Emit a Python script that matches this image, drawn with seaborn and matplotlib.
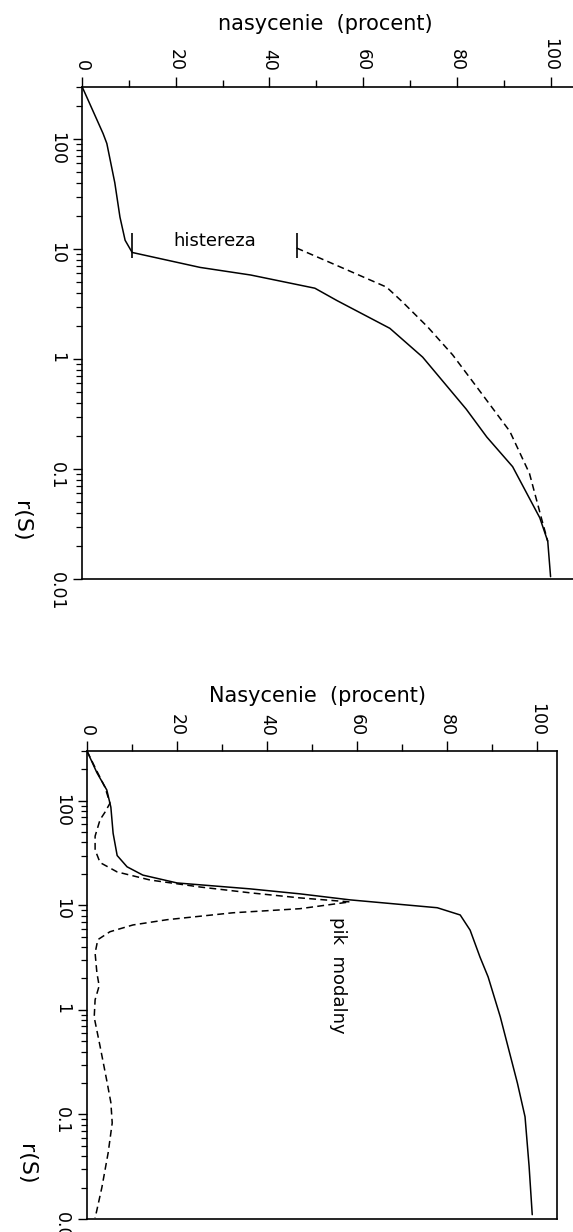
import matplotlib
matplotlib.use('Agg')
import matplotlib.pyplot as plt
import seaborn as sns
import pandas as pd
from matplotlib.ticker import FixedLocator, LogLocator, NullFormatter

# ---------------- data ----------------
# top panel (drainage / imbibition with hysteresis)
top_solid_sat = [0, 1.3, 4.5, 5.3, 7.0, 8.1, 9.2, 10.7, 25.2, 36.0, 49.7, 54.4,
                 65.7, 72.7, 82.0, 86.4, 91.9, 97.7, 99.4, 100.0]
top_solid_r = [300, 226, 112, 91, 40, 19.5, 12, 9.3, 6.8, 5.8, 4.4, 3.4,
               1.9, 1.04, 0.35, 0.195, 0.105, 0.036, 0.022, 0.0105]
top_dash_sat = [45.8, 55.0, 65.0, 68.4, 73.8, 79.1, 84.2, 91.3, 95.5, 98.1, 99.4]
top_dash_r = [10.2, 6.9, 4.5, 3.3, 1.95, 1.09, 0.56, 0.22, 0.091, 0.035, 0.022]
hyst_sat = [10.7, 45.8]
hyst_r_low = 8.3
hyst_r_high = 14.0

# bottom panel (cumulative curve and pore-size distribution)
bot_solid_sat = [0, 2.2, 4.4, 5.3, 5.8, 6.7, 8.9, 12.4, 20.0, 36.2, 47.3, 58.4,
                 77.8, 82.9, 85.1, 87.3, 89.1, 91.8, 95.6, 97.3, 98.2, 98.9]
bot_solid_r = [300, 186, 127, 87, 49, 30, 23.4, 19.5, 16.4, 14.4, 12.9, 11.3,
               9.5, 8.1, 5.8, 3.2, 2.07, 0.86, 0.2, 0.095, 0.032, 0.011]
bot_dash_sat = [0, 2.0, 4.0, 5.1, 4.0, 2.9, 1.8, 1.8, 2.9, 6.7, 14.0, 25.1, 36.2,
                47.3, 58.4, 47.3, 32.4, 17.8, 10.2, 5.1, 2.4, 1.8, 2.2, 2.7, 1.8,
                1.6, 2.9, 4.4, 5.3, 5.6, 4.7, 3.3, 1.8]
bot_dash_r = [300, 200, 135, 95, 78, 66, 46, 34, 25.7, 20.9, 17.5, 15.0, 13.2,
              11.8, 10.8, 9.3, 8.5, 7.3, 6.5, 5.6, 4.7, 3.5, 2.26, 1.7, 1.25,
              0.85, 0.45, 0.21, 0.13, 0.083, 0.043, 0.02, 0.0102]

sat_ticks = [0, 20, 40, 60, 80, 100]
sat_minor = [10, 30, 50, 70, 90]
r_ticks = [0.01, 0.1, 1, 10, 100]
r_tick_labels = ['0.01', '0.1', '1', '10', '100']

# ---------------- style ----------------
sns.set_theme(style='ticks')
plt.rcParams['font.family'] = ['DejaVu Sans']
plt.rcParams['axes.edgecolor'] = 'black'
plt.rcParams['text.color'] = 'black'
plt.rcParams['xtick.color'] = 'black'
plt.rcParams['ytick.color'] = 'black'
plt.rcParams['axes.labelcolor'] = 'black'

W, H = 573, 1232
fig = plt.figure(figsize=(W / 100, H / 100), dpi=100)
fig.patch.set_facecolor('white')

ax1 = fig.add_axes([82 / W, 1 - 579 / H, 492 / W, 492.5 / H])
ax2 = fig.add_axes([87 / W, 1 - 1219 / H, 470 / W, 468 / H])

LW = 1.1
DASH = (0, (4.5, 2.8))

for ax in (ax1, ax2):
    ax.set_facecolor('white')
    ax.set_yscale('log')

# top panel curves
sns.lineplot(x=top_solid_sat, y=top_solid_r, sort=False, estimator=None,
             color='black', lw=LW, ax=ax1)
sns.lineplot(x=top_dash_sat, y=top_dash_r, sort=False, estimator=None,
             color='black', lw=LW, linestyle=DASH, ax=ax1)
ax1.vlines(hyst_sat, hyst_r_low, hyst_r_high, color='black', lw=1.2)
ax1.text(28.4, 11.7, 'histereza', ha='center', va='center', fontsize=13)

# bottom panel curves
sns.lineplot(x=bot_solid_sat, y=bot_solid_r, sort=False, estimator=None,
             color='black', lw=LW, ax=ax2)
sns.lineplot(x=bot_dash_sat, y=bot_dash_r, sort=False, estimator=None,
             color='black', lw=LW, linestyle=DASH, ax=ax2)
ax2.text(55.8, 7.8, 'pik  modalny', rotation=-90, ha='center', va='top',
         fontsize=13)

xlims = {ax1: (0, 105), ax2: (0, 104.4)}
for ax in (ax1, ax2):
    ax.set_xlim(*xlims[ax])
    ax.set_ylim(0.01, 300)
    ax.xaxis.set_ticks_position('top')
    ax.xaxis.set_label_position('top')
    ax.set_xticks(sat_ticks)
    ax.set_xticklabels([str(t) for t in sat_ticks])
    ax.xaxis.set_minor_locator(FixedLocator(sat_minor))
    ax.set_yticks(r_ticks)
    ax.set_yticklabels(r_tick_labels)
    ax.yaxis.set_minor_locator(LogLocator(base=10, subs=range(2, 10)))
    ax.yaxis.set_minor_formatter(NullFormatter())
    ax.tick_params(axis='x', which='major', direction='out', length=7, width=1,
                   labelsize=12.5, labelrotation=-90, pad=4, top=True, bottom=False)
    ax.tick_params(axis='x', which='minor', direction='out', length=5, width=1,
                   top=True, bottom=False)
    ax.tick_params(axis='y', which='major', direction='out', length=6.5, width=1,
                   labelsize=12.5, labelrotation=-90, pad=5, left=True, right=False)
    ax.tick_params(axis='y', which='minor', direction='out', length=4.5, width=0.9,
                   left=True, right=False)
    for s in ax.spines.values():
        s.set_linewidth(1.2)
        s.set_color('black')
    ax.grid(False)

ax1.spines['right'].set_visible(False)

ax1.set_xlabel('nasycenie  (procent)', fontsize=15)
ax1.xaxis.set_label_coords(0.494, 1.127)
ax1.xaxis.label.set_va('center')
ax1.set_ylabel('r(S)', fontsize=16, rotation=-90)
ax1.yaxis.set_label_coords(-0.124, 0.118)
ax1.yaxis.label.set_va('center')

ax2.set_xlabel('Nasycenie  (procent)', fontsize=15)
ax2.xaxis.set_label_coords(0.491, 1.1175)
ax2.xaxis.label.set_va('center')
ax2.set_ylabel('r(S)', fontsize=16, rotation=-90)
ax2.yaxis.set_label_coords(-0.130, 0.1175)
ax2.yaxis.label.set_va('center')

fig.savefig('out.png', dpi=100, facecolor='white')
